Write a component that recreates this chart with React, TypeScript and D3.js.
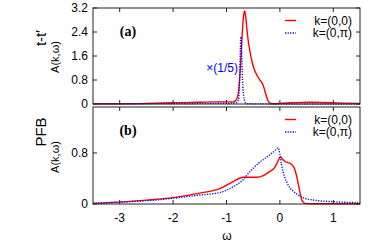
import * as d3 from "d3"

// ---- data ----
const xTicks = [-3, -2, -1, 0, 1]
const yTicksTop = [0, 0.8, 1.6, 2.4, 3.2]
const yTicksBottom = [0, 0.8]

// panel (a): t-t'
const topRedW = [-3.5, -3, -2.5, -2, -1.5, -1.2, -1, -0.9, -0.85, -0.8, -0.77, -0.74, -0.71, -0.68, -0.66, -0.64, -0.62, -0.6, -0.56, -0.52, -0.48, -0.45, -0.41, -0.375, -0.34, -0.3, -0.26, -0.22, -0.19, -0.15, -0.1, 0, 0.2, 0.4, 0.6, 0.8, 1, 1.2, 1.5]
const topRedA = [0.01, 0.01, 0.02, 0.04, 0.06, 0.07, 0.07, 0.07, 0.09, 0.2, 0.5, 1.2, 2.2, 2.95, 3.1, 2.9, 2.55, 2.2, 1.75, 1.4, 1.15, 1.03, 0.9, 0.8, 0.72, 0.55, 0.3, 0.1, 0.04, 0.01, 0.01, 0.02, 0.04, 0.055, 0.06, 0.05, 0.04, 0.03, 0.02]
const topBlueW = [-3.5, -3, -2.5, -2, -1.5, -1, -0.9, -0.85, -0.8, -0.78, -0.765, -0.75, -0.74, -0.73, -0.72, -0.71, -0.7, -0.68, -0.66, -0.63, -0.6, -0.5, -0.3, 0, 0.5, 1, 1.5]
const topBlueA = [0.005, 0.005, 0.01, 0.015, 0.02, 0.025, 0.03, 0.035, 0.06, 0.12, 0.35, 1.1, 1.9, 2.24, 1.9, 1.3, 0.8, 0.3, 0.1, 0.02, 0.01, 0.005, 0.003, 0.002, 0.002, 0.002, 0.002]

// panel (b): PFB
const botRedW = [-3.5, -3, -2.5, -2, -1.5, -1.125, -0.875, -0.69, -0.55, -0.44, -0.3, -0.19, -0.1, -0.06, -0.02, 0.01, 0.05, 0.09, 0.15, 0.22, 0.27, 0.31, 0.36, 0.41, 0.47, 0.6, 1, 1.5]
const botRedA = [0.01, 0.03, 0.06, 0.1, 0.17, 0.24, 0.35, 0.42, 0.42, 0.42, 0.45, 0.51, 0.57, 0.63, 0.7, 0.74, 0.7, 0.67, 0.65, 0.62, 0.56, 0.45, 0.25, 0.06, 0.01, 0.005, 0.005, 0.005]
const botBlueW = [-3.5, -3, -2.5, -2, -1.5, -1.125, -0.875, -0.69, -0.6, -0.5, -0.4, -0.32, -0.19, -0.1, -0.04, 0, 0.03, 0.06, 0.09, 0.125, 0.19, 0.25, 0.31, 0.43, 0.6, 1, 1.5]
const botBlueA = [0.01, 0.03, 0.05, 0.09, 0.14, 0.18, 0.27, 0.38, 0.47, 0.56, 0.64, 0.69, 0.77, 0.83, 0.88, 0.78, 0.62, 0.51, 0.42, 0.35, 0.25, 0.2, 0.16, 0.1, 0.065, 0.036, 0.02]

const legendLabels = ["k=(0,0)", "k=(0,\u03c0)"]

const RED = "#ff0000"
const BLUE = "#0000ff"
const SANS = "'Liberation Sans', Arial, Helvetica, sans-serif"
const SERIF = "'Liberation Serif', 'Times New Roman', serif"

const LEFT = 93
const RIGHT = 360
const TICK = 4

const x = d3.scaleLinear().domain([-3.5, 1.5]).range([LEFT, RIGHT])

type PanelProps = {
  top: number
  bottom: number
  yMax: number
  yTicks: number[]
  red: [number[], number[]]
  blue: [number[], number[]]
  tag: string
  title: string
  titleY: number
  akY: number
  xLabels: boolean
}

function Panel({ top, bottom, yMax, yTicks, red, blue, tag, title, titleY, akY, xLabels }: PanelProps) {
  const y = d3.scaleLinear().domain([0, yMax]).range([bottom, top])
  const line = d3
    .line<number>()
    .x((d) => x(d))
    .curve(d3.curveMonotoneX)
  const path = (ws: number[], as: number[]) =>
    line.y((_, i) => y(as[i]))(ws) || ""

  return (
    <g>
      {/* ticks on all sides */}
      {xTicks.map((t) => (
        <g key={"x" + t} stroke="#222" strokeWidth={1}>
          <line x1={x(t)} x2={x(t)} y1={bottom} y2={bottom - TICK} />
          <line x1={x(t)} x2={x(t)} y1={top} y2={top + TICK} />
        </g>
      ))}
      {yTicks.map((t) => (
        <g key={"y" + t}>
          <line x1={LEFT} x2={LEFT + TICK} y1={y(t)} y2={y(t)} stroke="#222" />
          <line x1={RIGHT} x2={RIGHT - TICK} y1={y(t)} y2={y(t)} stroke="#222" />
          <text x={88} y={y(t)} dy="0.35em" textAnchor="end" fontSize={12} fontFamily={SANS} fill="#000">
            {String(t)}
          </text>
        </g>
      ))}
      {xLabels &&
        xTicks.map((t) => (
          <text key={"xl" + t} x={x(t)} y={bottom + 18} textAnchor="middle" fontSize={12} fontFamily={SANS} fill="#000">
            {t < 0 ? "-" + Math.abs(t) : String(t)}
          </text>
        ))}

      {/* curves */}
      <path d={path(red[0], red[1])} fill="none" stroke={RED} strokeWidth={1.4} />
      <path d={path(blue[0], blue[1])} fill="none" stroke={BLUE} strokeWidth={1.4} strokeDasharray="1.2,1.4" />

      {/* frame */}
      <rect x={LEFT} y={top} width={RIGHT - LEFT} height={bottom - top} fill="none" stroke="#222" strokeWidth={1} />

      {/* legend */}
      <line x1={285} x2={296} y1={top + 12.5} y2={top + 12.5} stroke={RED} strokeWidth={1.4} />
      <text x={352} y={top + 12.5} dy="0.35em" textAnchor="end" fontSize={12} fontFamily={SANS} fill="#000">
        {legendLabels[0]}
      </text>
      <line x1={285} x2={296} y1={top + 25} y2={top + 25} stroke={BLUE} strokeWidth={1.4} strokeDasharray="1.2,1.4" />
      <text x={352} y={top + 25} dy="0.35em" textAnchor="end" fontSize={12} fontFamily={SANS} fill="#000">
        {legendLabels[1]}
      </text>

      {/* panel tag */}
      <text x={128} y={top + 23} dy="0.35em" textAnchor="middle" fontSize={14} fontWeight="bold" fontFamily={SERIF} fill="#000">
        {tag}
      </text>

      {/* y titles */}
      <text transform={`translate(46,${titleY}) rotate(-90)`} textAnchor="middle" fontSize={15} fontFamily={SANS} fill="#000">
        {title}
      </text>
      <text transform={`translate(59,${akY}) rotate(-90)`} textAnchor="middle" fontSize={11} fontFamily={SANS} fill="#000">
        A(k,ω)
      </text>
    </g>
  )
}

export default function App() {
  return (
    <svg
      width={390}
      height={244}
      style={{ position: "absolute", left: 0, top: 0, background: "#fff" }}
    >
      <Panel
        top={8}
        bottom={104}
        yMax={3.2}
        yTicks={yTicksTop}
        red={[topRedW, topRedA]}
        blue={[topBlueW, topBlueA]}
        tag="(a)"
        title={"t-t\u2032"}
        titleY={38}
        akY={57}
        xLabels={false}
      />
      <Panel
        top={107}
        bottom={204}
        yMax={1.52}
        yTicks={yTicksBottom}
        red={[botRedW, botRedA]}
        blue={[botBlueW, botBlueA]}
        tag="(b)"
        title="PFB"
        titleY={132}
        akY={157}
        xLabels={true}
      />
      <text x={238} y={68} dy="0.35em" textAnchor="end" fontSize={12} fontFamily={SANS} fill={BLUE}>
        ×(1/5)
      </text>
      <text x={227} y={236} dy="0.35em" textAnchor="middle" fontSize={12} fontFamily={SANS} fill="#000">
        ω
      </text>
    </svg>
  )
}
